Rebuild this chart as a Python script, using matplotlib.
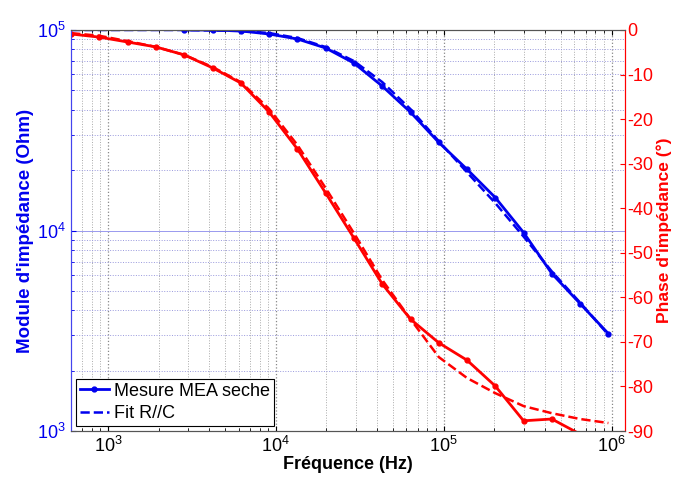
import numpy as np
import matplotlib.pyplot as plt

plt.rcParams['font.family'] = ['Liberation Sans', 'DejaVu Sans']
plt.rcParams['mathtext.default'] = 'regular'
plt.rcParams['axes.unicode_minus'] = False

# frequences de mesure (Hz)
freq = [603, 889, 1310, 1930, 2850, 4200, 6190, 9120, 13440, 19820,
        29200, 43050, 63450, 93500, 137800, 203000, 299300, 441000, 650000, 958000]

# module mesure (la mesure commence a 2850 Hz)
freq_mod = freq[4:]
mod_mesure = [100000, 100000, 98900, 95500, 90200, 81300, 68400, 52500, 38900,
              27500, 20200, 14600, 9770, 6100, 4320, 3060]
mod_fit = [100000, 100000, 100000, 100000, 100000, 99400, 98900, 96600, 91200, 82200,
           70000, 55000, 40300, 27900, 19500, 13700, 9330, 6250, 4370, 3020]

# phase (degres)
phase_mesure = [-0.9, -1.6, -2.7, -3.8, -5.6, -8.5, -11.9, -18.4, -26.7, -36.6,
                -46.7, -57.0, -64.9, -70.2, -74.1, -79.9, -87.7, -87.3, -90.7, -93.0]
phase_fit = [-0.7, -1.3, -2.5, -3.8, -5.6, -8.3, -11.7, -17.7, -25.8, -35.5,
             -45.6, -56.1, -64.9, -73.4, -78.1, -81.5, -84.4, -86.0, -87.3, -88.2]

fig = plt.figure(figsize=(6.74, 4.8), dpi=100)
ax1 = fig.add_axes([0.105, 0.102, 0.822, 0.8355])
ax2 = ax1.twinx()

l1, = ax1.plot(freq_mod, mod_mesure, '-', color='#0000ee', lw=2, marker='o', ms=3.5, label='Mesure MEA seche')
l2, = ax1.plot(freq, mod_fit, '--', color='#0000ee', lw=1.8, label='Fit R//C')
ax2.plot(freq, phase_mesure, '-', color='#ff0000', lw=2, marker='o', ms=3.5)
ax2.plot(freq, phase_fit, '--', color='#ff0000', lw=1.8)

ax1.set_xscale('log')
ax1.set_yscale('log')
ax1.set_xlim(600, 1.2e6)
ax1.set_ylim(1e3, 1e5)
ax2.set_ylim(-90, 0)
ax2.set_yticks(np.arange(-90, 1, 10))

# grille facon matlab
ax1.xaxis.grid(True, which='major', color='#888888', ls=':', lw=0.9)
ax1.xaxis.grid(True, which='minor', color='#aaaaaa', ls=':', lw=0.7)
ax1.yaxis.grid(True, which='major', color='#9999ee', ls='-', lw=0.7)
ax1.yaxis.grid(True, which='minor', color='#9999dd', ls=':', lw=0.7)

ax1.tick_params(axis='both', which='both', direction='in', top=True, labelsize=13)
ax1.tick_params(axis='y', which='both', colors='#0000ee')
ax1.tick_params(axis='x', colors='black')
ax2.tick_params(axis='y', which='both', direction='in', colors='#ff0000', labelsize=13, pad=2)

ax1.spines['left'].set_color('#4444ee')
ax2.spines['left'].set_color('#4444ee')
ax2.spines['right'].set_color('#ff0000')
ax1.spines['right'].set_color('#ff0000')
for a in (ax1, ax2):
    a.spines['top'].set_color('#555555')
    a.spines['bottom'].set_color('#555555')

ax1.set_xlabel('Fréquence (Hz)', fontsize=13, fontweight='bold', labelpad=0)
ax1.set_ylabel("Module d'impédance (Ohm)", fontsize=13.5, fontweight='bold', color='#0000ee', labelpad=2)
ax2.set_ylabel("Phase d'impédance (°)", fontsize=12.5, fontweight='bold', color='#ff0000', labelpad=2)

leg = ax2.legend(handles=[l1, l2], loc='lower left', fontsize=13, fancybox=False,
                 edgecolor='black', framealpha=1, borderaxespad=0.3, handlelength=1.6,
                 handletextpad=0.3, borderpad=0.2, labelspacing=0.3)
leg.get_frame().set_linewidth(0.8)

fig.savefig('out.png', dpi=100)
